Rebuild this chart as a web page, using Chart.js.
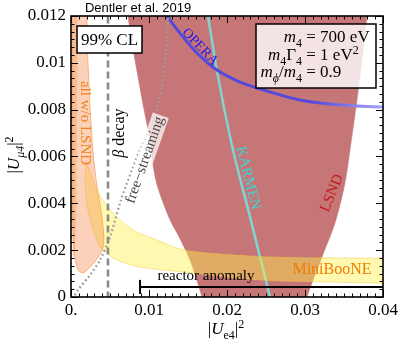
<!DOCTYPE html>
<html>
<head>
<meta charset="utf-8">
<title>Dentler et al. 2019</title>
<script src="https://cdn.jsdelivr.net/npm/chart.js@4"></script>
<style>
  body { margin: 0; background: #fff; }
</style>
</head>
<body>
<canvas id="grafico" width="399" height="348"></canvas>
<script>
// ticks
const xTicks = [0, 0.01, 0.02, 0.03, 0.04];
const xTickLabels = ['0.', '0.01', '0.02', '0.03', '0.04'];
const yTicks = [0, 0.002, 0.004, 0.006, 0.008, 0.01, 0.012];
const yTickLabels = ['0', '0.002', '0.004', '0.006', '0.008', '0.01', '0.012'];

// LSND region (left edge down, right edge up)
const lsndX = [0.00718, 0.00731, 0.00782, 0.00859, 0.00936, 0.01013, 0.01051, 0.01103, 0.01192, 0.01282, 0.01372, 0.01526, 0.01679, 0.01718, 0.0300, 0.03026, 0.03218, 0.03385, 0.03513, 0.03577, 0.03667, 0.03731, 0.03795, 0.03808];
const lsndY = [0.01247, 0.0120, 0.01085, 0.0094, 0.0080, 0.0067, 0.00564, 0.00478, 0.00393, 0.0032, 0.00265, 0.00158, 0, -0.00056, -0.00056, 0, 0.00171, 0.00316, 0.00487, 0.00628, 0.00841, 0.01012, 0.0120, 0.01247];

// MiniBooNE region
const mbX = [0.00192, 0.00231, 0.00308, 0.00372, 0.00462, 0.0059, 0.00795, 0.01103, 0.01397, 0.01744, 0.02551, 0.0332, 0.039, 0.0425, 0.0425, 0.039, 0.0332, 0.02423, 0.01436, 0.00885, 0.0059, 0.00436, 0.00359, 0.00282, 0.00205, 0.0018];
const mbY = [0.00577, 0.00542, 0.00478, 0.00431, 0.00389, 0.00342, 0.00286, 0.00243, 0.00205, 0.00188, 0.00171, 0.00167, 0.00166, 0.00166, 0.0006, 0.0006, 0.00064, 0.00073, 0.00107, 0.00128, 0.00158, 0.00192, 0.00222, 0.00286, 0.00393, 0.005];

// all w/o LSND
const allX = [0.00012, 0.00175, 0.0021, 0.0024, 0.0028, 0.0033, 0.00385, 0.0042, 0.0041, 0.0036, 0.0028, 0.00205, 0.00155, 0.0009, 0.0005, 0.00025, 0.00015];
const allY = [0.0125, 0.0125, 0.0105, 0.0084, 0.0063, 0.0048, 0.0037, 0.0026, 0.0021, 0.00175, 0.0014, 0.00115, 0.00103, 0.00115, 0.0017, 0.0029, 0.0063];
const allInX = [0.00012, 0.00075, 0.00077, 0.0007, 0.00051, 0.00026, 0.00014];
const allInY = [0.0125, 0.0125, 0.0084, 0.0041, 0.0020, 0.00165, 0.003];

// OPERA, KARMEN, free-streaming, beta decay
const operaX = [0.01128, 0.01231, 0.01397, 0.01615, 0.01872, 0.02167, 0.02551, 0.02936, 0.0332, 0.03667, 0.04, 0.0415];
const operaY = [0.01247, 0.0120, 0.01127, 0.01042, 0.00969, 0.00918, 0.00876, 0.00841, 0.00824, 0.00816, 0.00811, 0.0081];
const karmenX = [0.01731, 0.01756, 0.01885, 0.02077, 0.02295, 0.02551, 0.0259];
const karmenY = [0.01247, 0.0120, 0.0094, 0.00628, 0.00342, 0, -0.00056];
const fsX = [0.01256, 0.01244, 0.01218, 0.01179, 0.01115, 0.01013, 0.00885, 0.00782, 0.00628, 0.005, 0.00372, 0.00244, 0.0009, 0.00038, 0.0002];
const fsY = [0.01247, 0.0120, 0.01055, 0.00927, 0.0082, 0.00722, 0.00628, 0.00542, 0.00401, 0.00256, 0.00158, 0.00094, 0.0003, 0, -0.0002];
const betaX = [0.00474, 0.00474];
const betaY = [-0.001, 0.013];

// reactor anomaly
const reactorX = [0.00885, 0.045];
const reactorY = [0.00043, 0.00043];
const capX = [0.00885, 0.00885];
const capY = [0.00013, 0.00073];

const serif = "'Liberation Serif', 'Times New Roman', serif";

function pts(xs, ys, close) {
    let p = xs.map((v, i) => ({x: v, y: ys[i]}));
    if (close) p.push({x: xs[0], y: ys[0]});
    return p;
}

// labels inside the plot
const notes = [
    {t: 'all w/o LSND', x: 0.0018, y: 0.00743, rot: 90, c: '#f0841e', s: 15},
    {t: 'OPERA', x: 0.01654, y: 0.01068, rot: 46, c: '#1a1af0', s: 14},
    {t: 'KARMEN', x: 0.02269, y: 0.00508, rot: 76, c: '#3cd6d6', s: 15},
    {t: 'LSND', x: 0.03346, y: 0.00444, rot: -68, c: '#c41818', s: 15},
    {t: 'MiniBooNE', x: 0.03346, y: 0.00115, rot: 0, c: '#f07c00', s: 16},
    {t: 'reactor anomaly', x: 0.0173, y: 0.0009, rot: 0, c: '#000', s: 15},
    {t: 'free\u2212streaming', x: 0.0095, y: 0.00585, rot: -70.7, c: '#4a4a4a', s: 15, box: 'rgba(255,255,255,0.72)'}
];

function rich(ctx, parts, x, y, align, size) {
    const fnt = k => {
        const small = k === 'sub' || k === 'subi' || k === 'sup';
        const it = k === 'i' || k === 'subi';
        return (it ? 'italic ' : '') + (small ? Math.round(size * 0.7) : size) + 'px ' + serif;
    };
    let w = 0;
    parts.forEach(p => { ctx.font = fnt(p[1]); w += ctx.measureText(p[0]).width; });
    let cx = align === 'center' ? x - w / 2 : align === 'right' ? x - w : x;
    ctx.textAlign = 'left';
    parts.forEach(p => {
        ctx.font = fnt(p[1]);
        let dy = (p[1] === 'sub' || p[1] === 'subi') ? size * 0.27 : p[1] === 'sup' ? -size * 0.38 : 0;
        ctx.fillText(p[0], cx, y + dy);
        cx += ctx.measureText(p[0]).width;
    });
}

// OPERA curve fades out towards the right edge
function operaColor(c) {
    const ch = c.chart;
    if (!ch.chartArea) return '#5548dc';
    const x = ch.scales.x;
    const g = ch.ctx.createLinearGradient(x.getPixelForValue(0.031), 0, x.getPixelForValue(0.04), 0);
    g.addColorStop(0, '#5548dc');
    g.addColorStop(1, '#a8a8f7');
    return g;
}

const decoraciones = {
    id: 'decoraciones',
    afterDatasetsDraw(chart) {
        const {ctx, chartArea: a, scales: {x, y}} = chart;
        ctx.save();
        ctx.strokeStyle = '#000';
        ctx.lineWidth = 1;
        ctx.beginPath();
        for (let k = 0; k <= 40; k++) {
            const px = Math.round(x.getPixelForValue(k * 0.001)) + 0.5;
            const len = k % 10 === 0 ? 7 : 3.5;
            ctx.moveTo(px, a.bottom); ctx.lineTo(px, a.bottom - len);
            ctx.moveTo(px, a.top); ctx.lineTo(px, a.top + len);
        }
        for (let k = 0; k <= 36; k++) {
            const py = Math.round(y.getPixelForValue(k * 0.002 / 6)) + 0.5;
            const len = k % 6 === 0 ? 7 : 3.5;
            ctx.moveTo(a.left, py); ctx.lineTo(a.left + len, py);
            ctx.moveTo(a.right, py); ctx.lineTo(a.right - len, py);
        }
        ctx.stroke();
        ctx.lineWidth = 1.6;
        ctx.strokeRect(a.left, a.top, a.right - a.left, a.bottom - a.top);

        // text labels
        notes.forEach(n => {
            ctx.save();
            ctx.translate(x.getPixelForValue(n.x), y.getPixelForValue(n.y));
            ctx.rotate(n.rot * Math.PI / 180);
            ctx.font = n.s + 'px ' + serif;
            ctx.textAlign = 'center';
            ctx.textBaseline = 'middle';
            if (n.box) {
                const w = ctx.measureText(n.t).width;
                ctx.fillStyle = n.box;
                ctx.fillRect(-w / 2 - 2, -n.s / 2 - 1, w + 4, n.s + 2);
            }
            ctx.fillStyle = n.c;
            ctx.fillText(n.t, 0, 0);
            ctx.restore();
        });
        // beta decay
        ctx.save();
        ctx.translate(x.getPixelForValue(0.00628), y.getPixelForValue(0.0070));
        ctx.rotate(-Math.PI / 2);
        ctx.fillStyle = '#000';
        ctx.textBaseline = 'middle';
        rich(ctx, [['\u03b2', 'i'], [' decay', 'n']], 0, 0, 'center', 16);
        ctx.restore();

        // 99% CL box
        ctx.fillStyle = '#fff';
        ctx.fillRect(a.left + 6, a.top + 10, 65, 27);
        ctx.lineWidth = 1.5;
        ctx.strokeRect(a.left + 6, a.top + 10, 65, 27);
        ctx.fillStyle = '#000';
        ctx.font = '17px ' + serif;
        ctx.textAlign = 'center';
        ctx.textBaseline = 'alphabetic';
        ctx.fillText('99% CL', a.left + 38.5, a.top + 29);

        // parameter box
        ctx.fillStyle = 'rgba(255,255,255,0.8)';
        ctx.fillRect(a.left + 185, a.top + 8, 120, 64);
        ctx.strokeRect(a.left + 185, a.top + 8, 120, 64);
        ctx.fillStyle = '#000';
        const eq = a.left + 231;
        rich(ctx, [['m', 'i'], ['4', 'sub']], eq, a.top + 26, 'right', 17);
        rich(ctx, [[' = 700 eV', 'n']], eq, a.top + 26, 'left', 17);
        rich(ctx, [['m', 'i'], ['4', 'sub'], ['\u0393', 'n'], ['4', 'sub']], eq, a.top + 44, 'right', 17);
        rich(ctx, [[' = 1 eV', 'n'], ['2', 'sup']], eq, a.top + 44, 'left', 17);
        rich(ctx, [['m', 'i'], ['\u03d5', 'subi'], ['/', 'n'], ['m', 'i'], ['4', 'sub']], eq, a.top + 61, 'right', 17);
        rich(ctx, [[' = 0.9', 'n']], eq, a.top + 61, 'left', 17);

        // title
        ctx.font = "13px 'Liberation Sans', Arial, sans-serif";
        ctx.textAlign = 'center';
        ctx.textBaseline = 'middle';
        ctx.fillText('Dentler et al. 2019', 138, 8);

        // axis titles
        ctx.textBaseline = 'alphabetic';
        rich(ctx, [['|', 'n'], ['U', 'i'], ['e4', 'sub'], ['|', 'n'], ['2', 'sup']], 226, 334, 'center', 17);
        ctx.save();
        ctx.translate(19, 155);
        ctx.rotate(-Math.PI / 2);
        rich(ctx, [['|', 'n'], ['U', 'i'], ['\u03bc4', 'subi'], ['|', 'n'], ['2', 'sup']], 0, 0, 'center', 17);
        ctx.restore();
        ctx.restore();
    }
};

function dibujarGrafico() {
    const ctx = document.getElementById('grafico').getContext('2d');
    const base = {pointRadius: 0, pointHoverRadius: 0, tension: 0.3};
    new Chart(ctx, {
        type: 'line',
        data: {
            datasets: [
                Object.assign({}, base, {data: pts(lsndX, lsndY, true), fill: 'shape', backgroundColor: '#c67677', borderColor: '#c67677', borderWidth: 0.5, order: 10}),
                Object.assign({}, base, {data: pts(karmenX, karmenY), fill: false, borderColor: '#7fd3d0', borderWidth: 2.6, order: 9}),
                Object.assign({}, base, {data: pts(mbX, mbY, true), fill: 'shape', backgroundColor: 'rgba(255,240,80,0.45)', borderColor: 'rgba(240,200,60,0.6)', borderWidth: 0.8, order: 8}),
                Object.assign({}, base, {data: pts(allX, allY, true), fill: 'shape', backgroundColor: 'rgba(246,140,80,0.4)', borderColor: 'rgba(240,140,60,0.7)', borderWidth: 0.8, order: 7}),
                Object.assign({}, base, {data: pts(allInX, allInY, true), fill: 'shape', backgroundColor: 'rgba(245,150,70,0.35)', borderWidth: 0, order: 6}),
                Object.assign({}, base, {data: pts(operaX, operaY), fill: false, borderWidth: 3, borderColor: operaColor, order: 5}),
                Object.assign({}, base, {data: pts(fsX, fsY), fill: false, borderColor: '#9c9c9c', borderWidth: 2.3, borderDash: [1.8, 2.6], order: 4}),
                Object.assign({}, base, {data: pts(betaX, betaY), fill: false, borderColor: '#8a8a8a', borderWidth: 2.6, borderDash: [7, 4], tension: 0, order: 3}),
                Object.assign({}, base, {data: pts(reactorX, reactorY), fill: false, borderColor: '#000', borderWidth: 2, tension: 0, order: 2}),
                Object.assign({}, base, {data: pts(capX, capY), fill: false, borderColor: '#000', borderWidth: 2, tension: 0, order: 1})
            ]
        },
        options: {
            responsive: false,
            animation: false,
            layout: {padding: {top: 16, right: 16, left: 0, bottom: 0}},
            elements: {line: {capBezierPoints: false}},
            plugins: {legend: {display: false}, tooltip: {enabled: false}},
            scales: {
                x: {
                    type: 'linear', min: 0, max: 0.04,
                    grid: {display: false, drawTicks: false},
                    border: {display: false},
                    afterBuildTicks: s => { s.ticks = xTicks.map(v => ({value: v})); },
                    afterFit: s => { s.height = 51; s.paddingLeft = 0; s.paddingRight = 0; },
                    ticks: {autoSkip: false, maxRotation: 0, padding: 3, color: '#000',
                        font: {family: serif, size: 17},
                        callback: (v, i) => xTickLabels[i]}
                },
                y: {
                    type: 'linear', min: 0, max: 0.012,
                    grid: {display: false, drawTicks: false},
                    border: {display: false},
                    afterBuildTicks: s => { s.ticks = yTicks.map(v => ({value: v})); },
                    afterFit: s => { s.width = 71; s.paddingTop = 0; s.paddingBottom = 0; },
                    ticks: {autoSkip: false, padding: 5, color: '#000',
                        font: {family: serif, size: 17},
                        callback: (v, i) => yTickLabels[i]}
                }
            }
        },
        plugins: [decoraciones]
    });
}
onload = dibujarGrafico;
</script>
</body>
</html>
